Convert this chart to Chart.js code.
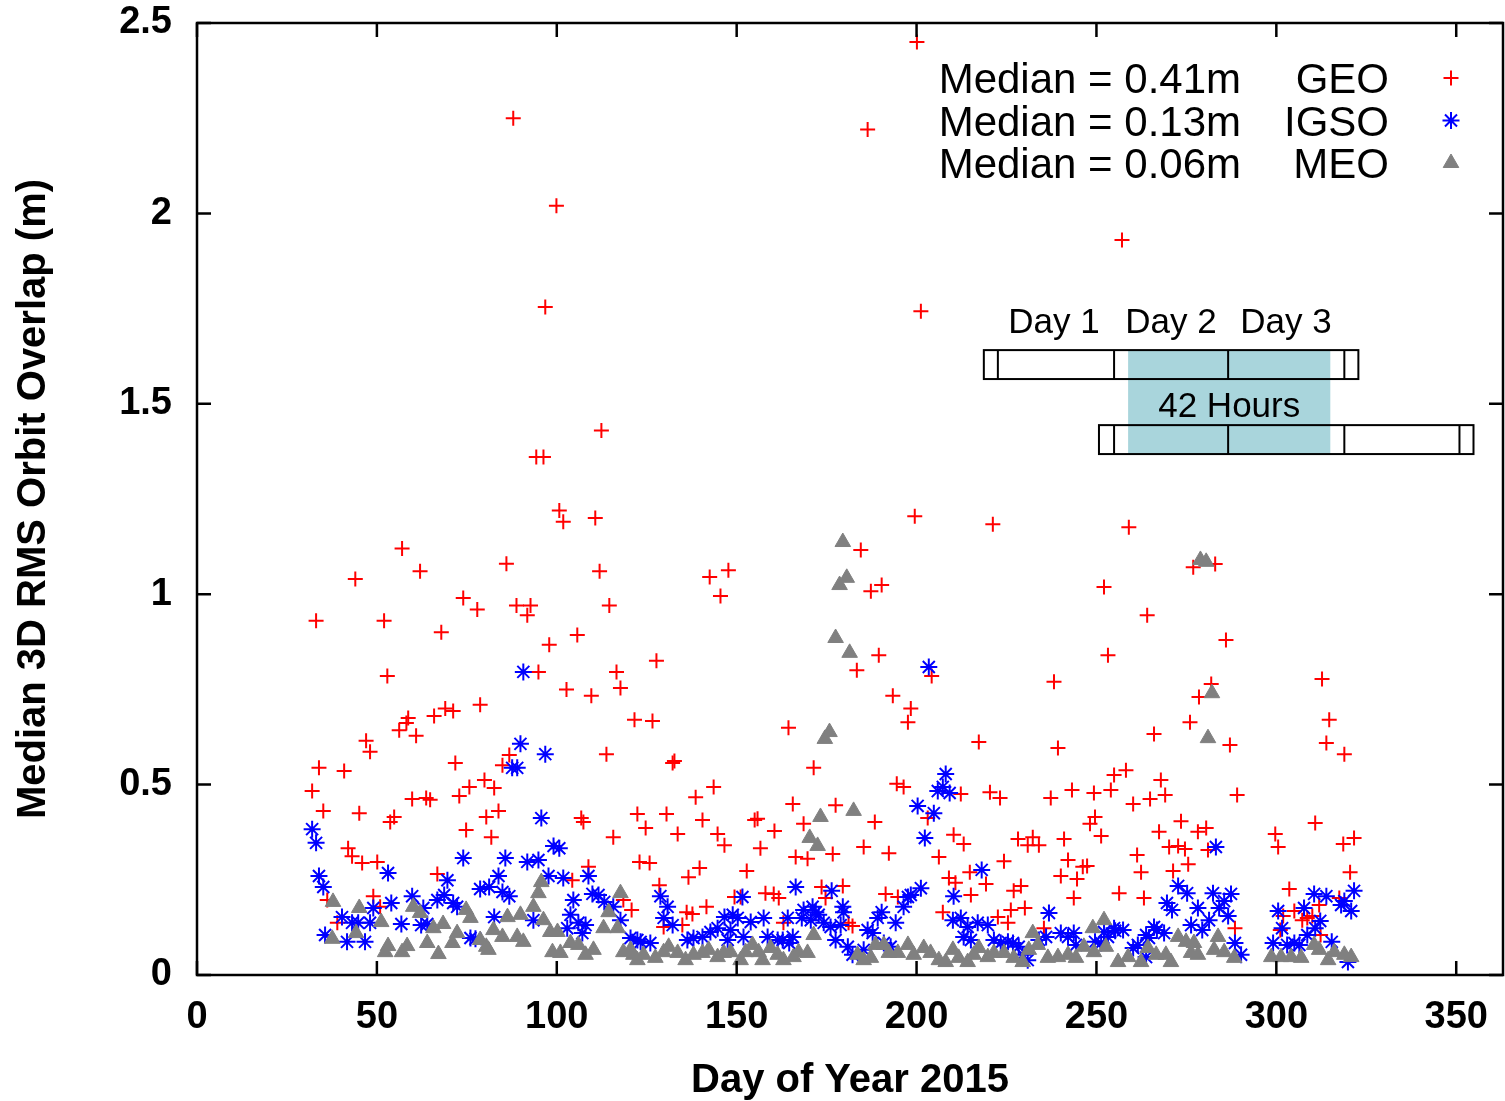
<!DOCTYPE html>
<html>
<head>
<meta charset="utf-8">
<script src="https://cdn.jsdelivr.net/npm/chart.js@4"></script>
<style>
  html, body { margin: 0; padding: 0; background: #fff; }
  #contenedor { width: 1505px; height: 1101px; }
</style>
</head>
<body>
<div id="contenedor"><canvas id="grafico"></canvas></div>
<script>
const xTicks = [0, 50, 100, 150, 200, 250, 300, 350];
const yTicks = [0, 0.5, 1, 1.5, 2, 2.5];
const seriesNames = ["GEO", "IGSO", "MEO"];
const medianLabels = ["Median = 0.41m", "Median = 0.13m", "Median = 0.06m"];
const insetDayLabels = ["Day 1", "Day 2", "Day 3"];
const insetSpanLabel = "42 Hours";

// [day, median 3D RMS overlap (m)]
const geoPoints = [
  [32.0,0.483],[33.1,0.93],[33.9,0.544],[35.1,0.431],[36.2,0.197],[39.0,0.137],[40.9,0.536],[42.0,0.333],[43.1,0.312],[44.0,1.04],
  [45.1,0.425],[45.9,0.294],[47.0,0.615],[48.1,0.586],[49.0,0.207],[50.1,0.297],[50.9,0.179],[52.0,0.93],[52.9,0.785],[53.7,0.402],
  [54.8,0.415],[56.2,0.643],[57.0,1.12],[58.2,0.662],[58.7,0.675],[59.8,0.462],[60.9,0.628],[62.0,1.06],[63.7,0.465],[64.8,0.46],
  [65.9,0.68],[66.8,0.265],[67.9,0.90],[69.0,0.70],[71.2,0.693],[71.8,0.557],[72.9,0.47],[74.0,0.99],[74.8,0.381],[75.7,0.494],
  [77.9,0.96],[78.7,0.71],[79.9,0.512],[80.4,0.415],[81.8,0.362],[82.6,0.491],[83.8,0.431],[84.9,0.551],[86.0,1.08],[86.8,0.578],
  [87.9,2.25],[88.8,0.97],[91.8,0.945],[92.7,0.97],[94.3,1.36],[94.9,0.796],[96.3,1.36],[96.8,1.754],[97.9,0.867],[99.9,2.02],
  [100.7,1.22],[101.8,1.19],[102.7,0.75],[104.3,0.249],[105.7,0.893],[106.8,0.412],[107.4,0.402],[108.8,0.284],[109.6,0.733],[110.7,1.20],
  [111.9,1.06],[112.4,1.43],[113.8,0.58],[114.6,0.97],[115.7,0.362],[116.6,0.796],[117.7,0.754],[118.5,0.197],[120.8,0.171],[121.6,0.67],
  [122.4,0.423],[123.0,0.297],[124.7,0.386],[125.8,0.294],[126.6,0.667],[127.7,0.825],[128.5,0.236],[129.7,0.126],[130.5,0.423],[132.2,0.557],
  [132.7,0.562],[133.6,0.37],[134.9,0.131],[136.1,0.165],[136.6,0.257],[137.7,0.16],[138.6,0.467],[139.7,0.281],[140.5,0.407],[141.6,0.179],
  [142.5,1.045],[143.6,0.494],[144.7,0.37],[145.5,0.995],[146.6,0.341],[147.7,1.063],[149.4,0.205],[151.1,0.205],[152.8,0.273],[155.0,0.407],
  [155.8,0.41],[156.6,0.333],[158.0,0.215],[160.3,0.213],[160.5,0.378],[161.7,0.202],[163.0,0.137],[164.4,0.649],[165.6,0.449],[166.4,0.31],
  [168.6,0.397],[169.7,0.305],[171.4,0.544],[173.6,0.231],[174.7,0.202],[176.7,0.318],[177.5,0.446],[179.5,0.234],[181.1,0.137],[182.2,0.129],
  [183.4,0.80],[184.5,1.116],[185.3,0.336],[186.4,2.22],[187.3,1.008],[188.4,0.402],[189.5,0.84],[190.3,1.024],[191.4,0.213],[192.3,0.32],
  [193.4,0.733],[194.5,0.502],[194.8,0.205],[196.4,0.494],[197.6,0.664],[198.4,0.70],[199.5,1.205],[200.1,2.45],[201.2,1.743],[203.1,0.412],
  [204.2,0.785],[206.2,0.31],[207.3,0.165],[209.0,0.255],[210.3,0.368],[210.8,0.242],[212.3,0.475],[213.1,0.344],[214.8,0.27],[215.1,0.21],
  [217.3,0.612],[219.3,0.239],[220.4,0.48],[221.2,1.184],[222.6,0.152],[223.2,0.465],[224.3,0.299],[225.4,0.137],[226.2,0.171],[227.0,0.221],
  [228.2,0.357],[229.0,0.234],[230.1,0.176],[230.9,0.341],[232.3,0.362],[234.0,0.341],[235.4,0.123],[237.3,0.465],[238.2,0.77],[239.3,0.596],
  [240.1,0.26],[241.0,0.357],[242.1,0.302],[243.2,0.486],[243.7,0.202],[244.6,0.252],[246.2,0.284],[247.4,0.286],[248.2,0.397],[249.3,0.478],
  [249.6,0.415],[251.3,0.365],[252.1,1.019],[253.2,0.84],[254.0,0.486],[254.9,0.525],[256.3,0.215],[257.1,1.93],[258.2,0.538],[259.0,1.176],
  [260.2,0.449],[261.3,0.315],[262.4,0.27],[263.2,0.202],[264.1,0.945],[264.9,0.462],[266.0,0.633],[267.4,0.376],[267.9,0.512],[269.1,0.473],
  [270.2,0.336],[271.3,0.273],[272.7,0.339],[273.5,0.404],[274.6,0.331],[275.5,0.291],[276.0,0.664],[276.9,1.071],[278.2,0.376],[278.5,0.73],
  [280.5,0.386],[281.0,0.328],[281.9,0.764],[283.0,1.079],[286.0,0.88],[287.1,0.604],[288.5,0.123],[289.1,0.473],[299.7,0.37],[300.5,0.336],
  [301.1,0.118],[301.9,0.155],[303.6,0.226],[305.0,0.168],[307.2,0.144],[307.7,0.176],[308.6,0.15],[310.0,0.155],[310.8,0.399],[311.9,0.184],
  [312.7,0.777],[312.3,0.105],[313.9,0.609],[314.7,0.67],[317.5,0.202],[318.6,0.344],[318.9,0.58],[320.5,0.27],[321.6,0.36]
];

const igsoPoints = [
  [32.0,0.383],[33.1,0.347],[33.9,0.26],[35.1,0.231],[35.6,0.105],[40.3,0.152],[41.7,0.087],[43.1,0.137],[44.8,0.137],[46.7,0.087],
  [48.1,0.137],[49.0,0.176],[53.1,0.268],[54.0,0.189],[56.8,0.134],[59.8,0.207],[62.3,0.131],[62.9,0.176],[64.0,0.134],[66.8,0.197],
  [68.7,0.21],[69.6,0.249],[71.2,0.189],[72.3,0.179],[74.0,0.307],[76.0,0.097],[77.4,0.095],[78.7,0.226],[81.2,0.231],[82.6,0.152],
  [83.8,0.26],[84.9,0.218],[85.7,0.307],[86.8,0.207],[87.6,0.544],[89.0,0.544],[89.9,0.607],[90.7,0.796],[91.8,0.297],[93.5,0.144],
  [94.9,0.302],[95.7,0.412],[96.8,0.58],[97.7,0.26],[99.1,0.339],[100.7,0.333],[101.8,0.255],[102.9,0.123],[103.8,0.158],[104.6,0.197],
  [106.0,0.137],[107.1,0.11],[108.0,0.131],[108.8,0.26],[109.9,0.213],[111.6,0.21],[113.2,0.192],[115.7,0.179],[117.7,0.144],[120.5,0.097],
  [122.4,0.092],[123.3,0.087],[126.0,0.084],[128.8,0.207],[129.7,0.15],[130.8,0.179],[132.2,0.131],[136.3,0.092],[138.0,0.097],[140.5,0.1],
  [142.7,0.113],[144.7,0.123],[146.6,0.152],[147.5,0.092],[148.3,0.118],[148.9,0.158],[150.3,0.15],[151.6,0.205],[151.9,0.1],[153.9,0.139],
  [157.5,0.15],[158.6,0.1],[161.4,0.092],[162.8,0.092],[164.2,0.15],[164.6,0.084],[165.6,0.1],[166.4,0.231],[168.1,0.15],[168.6,0.171],
  [170.6,0.144],[171.1,0.179],[172.0,0.165],[172.8,0.158],[174.2,0.137],[176.1,0.126],[176.4,0.221],[177.5,0.092],[178.9,0.131],[179.5,0.179],
  [179.7,0.165],[180.9,0.074],[182.2,0.053],[185.3,0.066],[186.4,0.118],[187.8,0.11],[189.2,0.15],[190.3,0.165],[190.9,0.084],[192.8,0.074],
  [194.2,0.137],[196.4,0.179],[197.6,0.205],[198.4,0.21],[200.3,0.444],[201.2,0.228],[202.3,0.36],[203.4,0.809],[204.8,0.425],[205.9,0.483],
  [207.3,0.494],[208.1,0.528],[209.2,0.478],[210.1,0.144],[210.3,0.207],[212.3,0.15],[213.1,0.1],[214.2,0.126],[215.1,0.092],[217.0,0.137],
  [218.1,0.276],[219.8,0.131],[221.5,0.092],[223.4,0.084],[225.4,0.087],[226.8,0.084],[228.4,0.074],[229.5,0.053],[230.9,0.039],[234.0,0.092],
  [236.0,0.1],[236.8,0.163],[240.1,0.11],[242.1,0.1],[243.7,0.11],[244.3,0.079],[249.6,0.087],[251.3,0.084],[252.1,0.113],[253.2,0.1],
  [254.9,0.123],[255.2,0.116],[257.4,0.118],[260.2,0.071],[261.5,0.079],[263.8,0.105],[263.8,0.047],[264.6,0.097],[266.0,0.126],[266.8,0.118],
  [268.8,0.11],[269.6,0.189],[271.0,0.171],[272.7,0.234],[275.2,0.215],[276.3,0.131],[278.2,0.176],[279.4,0.118],[281.3,0.144],[282.4,0.215],
  [283.2,0.336],[284.1,0.176],[285.5,0.194],[286.6,0.155],[287.4,0.213],[288.5,0.084],[290.2,0.053],[299.1,0.084],[300.5,0.168],[301.6,0.123],
  [303.0,0.079],[305.0,0.084],[306.4,0.079],[307.7,0.176],[308.6,0.105],[310.5,0.213],[310.8,0.123],[312.2,0.142],[313.9,0.207],[315.4,0.087],
  [318.0,0.184],[318.9,0.194],[319.9,0.034],[320.8,0.168],[321.6,0.221]
];

const meoPoints = [
  [37.6,0.095],[37.8,0.192],[44.2,0.11],[45.1,0.176],[51.2,0.139],[52.3,0.06],[53.1,0.076],[57.0,0.06],[58.4,0.076],[60.1,0.179],
  [62.0,0.163],[64.0,0.084],[65.7,0.123],[67.1,0.055],[68.4,0.134],[71.0,0.084],[72.3,0.11],[74.8,0.171],[76.0,0.15],[78.7,0.092],
  [80.4,0.074],[81.0,0.066],[82.4,0.118],[84.9,0.1],[86.3,0.152],[89.0,0.1],[89.9,0.158],[90.7,0.087],[93.5,0.179],[94.9,0.215],
  [95.7,0.244],[96.3,0.144],[98.2,0.113],[98.8,0.06],[100.2,0.113],[101.0,0.058],[103.8,0.084],[106.0,0.079],[108.0,0.053],[110.2,0.066],
  [113.0,0.123],[114.4,0.165],[116.9,0.123],[117.7,0.215],[118.5,0.06],[120.5,0.066],[121.3,0.053],[122.4,0.039],[124.1,0.053],[127.4,0.045],
  [129.7,0.06],[131.1,0.074],[133.6,0.058],[135.8,0.039],[138.0,0.053],[140.5,0.058],[142.2,0.066],[144.7,0.047],[146.4,0.058],[148.3,0.06],
  [151.1,0.039],[152.5,0.06],[154.4,0.079],[156.1,0.06],[157.2,0.039],[159.4,0.071],[161.4,0.053],[163.0,0.039],[165.8,0.047],[167.2,0.06],
  [169.7,0.058],[170.3,0.36],[171.4,0.105],[172.5,0.339],[173.3,0.415],[174.5,0.62],[175.8,0.638],[177.5,0.885],[178.6,1.024],[179.5,1.137],
  [180.6,1.043],[181.4,0.846],[182.5,0.431],[183.6,0.053],[185.3,0.039],[187.3,0.045],[188.6,0.079],[190.9,0.079],[192.3,0.058],[194.8,0.058],
  [197.6,0.079],[199.2,0.053],[202.0,0.071],[203.9,0.058],[206.2,0.039],[208.1,0.034],[210.1,0.066],[211.7,0.045],[214.2,0.034],[215.9,0.053],
  [217.3,0.071],[219.8,0.047],[221.5,0.058],[224.3,0.058],[227.0,0.045],[229.5,0.034],[231.2,0.066],[232.3,0.11],[233.7,0.079],[236.5,0.045],
  [239.3,0.047],[242.1,0.053],[244.3,0.045],[246.5,0.074],[249.0,0.123],[249.3,0.06],[252.1,0.144],[252.6,0.074],[256.0,0.034],[258.8,0.047],
  [262.4,0.034],[264.3,0.071],[266.6,0.053],[269.3,0.053],[270.7,0.034],[272.7,0.1],[274.9,0.087],[276.3,0.058],[277.1,0.084],[278.2,0.053],
  [278.9,1.09],[280.5,1.085],[281.0,0.622],[282.1,0.74],[282.7,0.066],[283.8,0.1],[285.5,0.06],[288.3,0.045],[298.6,0.047],[301.3,0.047],
  [304.1,0.047],[306.9,0.045],[310.5,0.079],[311.9,0.066],[314.4,0.039],[316.1,0.06],[318.9,0.053],[320.8,0.047]
];

const FUENTE = "'Liberation Sans', Arial, Helvetica, sans-serif";
Chart.defaults.font.family = FUENTE;

const estilos = [
  { color: "#ff0000", pointStyle: "cross", radius: 7.5, borderWidth: 2 },
  { color: "#0000ff", pointStyle: "star", radius: 8.5, borderWidth: 2 },
  { color: "#808080", pointStyle: "triangle", radius: 9, borderWidth: 1 },
];

// the 42 hour overlap sketch, in axis units (day, m)
const esquema = {
  shade: { x0: 258.8, x1: 315.0, y0: 1.368, y1: 1.641 },
  bars: [
    { x0: 218.7, x1: 322.8, y0: 1.565, y1: 1.641, cuts: [222.6, 254.9, 286.6, 318.9] },
    { x0: 250.7, x1: 354.8, y0: 1.368, y1: 1.444, cuts: [254.9, 286.6, 318.9, 350.9] },
  ],
  dayX: [238.2, 270.7, 302.7],
  dayY: 1.686,
  spanX: 286.9,
  spanY: 1.466,
};

const toXY = (pts) => pts.map(([x, y]) => ({ x, y }));

const dibujarPunto = (ctx, est, x, y) => {
  ctx.save();
  ctx.strokeStyle = est.color;
  ctx.fillStyle = est.color;
  ctx.lineWidth = est.borderWidth;
  Chart.helpers.drawPoint(ctx, { pointStyle: est.pointStyle, radius: est.radius, borderWidth: est.borderWidth, rotation: 0 }, x, y);
  ctx.restore();
};

const marco = {
  id: "marco",
  afterDatasetsDraw(chart) {
    const { ctx, chartArea: a, scales: { x, y } } = chart;
    ctx.save();

    // overlap sketch
    const s = esquema.shade;
    ctx.fillStyle = "#a9d5dc";
    ctx.fillRect(x.getPixelForValue(s.x0), y.getPixelForValue(s.y1),
      x.getPixelForValue(s.x1) - x.getPixelForValue(s.x0), y.getPixelForValue(s.y0) - y.getPixelForValue(s.y1));
    ctx.strokeStyle = "#000";
    ctx.lineWidth = 2;
    esquema.bars.forEach((b) => {
      const px0 = x.getPixelForValue(b.x0), px1 = x.getPixelForValue(b.x1);
      const py0 = y.getPixelForValue(b.y1), py1 = y.getPixelForValue(b.y0);
      ctx.strokeRect(px0, py0, px1 - px0, py1 - py0);
      b.cuts.forEach((c) => {
        const pc = x.getPixelForValue(c);
        ctx.beginPath();
        ctx.moveTo(pc, py0);
        ctx.lineTo(pc, py1);
        ctx.stroke();
      });
    });
    ctx.fillStyle = "#000";
    ctx.font = `35px ${FUENTE}`;
    ctx.textAlign = "center";
    ctx.textBaseline = "alphabetic";
    insetDayLabels.forEach((t, i) => {
      ctx.fillText(t, x.getPixelForValue(esquema.dayX[i]), y.getPixelForValue(esquema.dayY));
    });
    ctx.fillText(insetSpanLabel, x.getPixelForValue(esquema.spanX), y.getPixelForValue(esquema.spanY));

    // key, gnuplot style
    ctx.font = `42px ${FUENTE}`;
    ctx.textAlign = "right";
    seriesNames.forEach((nombre, i) => {
      const base = a.top + 70 + i * 42.5;
      ctx.fillStyle = "#000";
      ctx.fillText(medianLabels[i], a.right - 262, base);
      ctx.fillText(nombre, a.right - 114, base);
      dibujarPunto(ctx, estilos[i], a.right - 52, base - 15);
    });

    // border + inward ticks on all four sides
    ctx.strokeStyle = "#000";
    ctx.lineWidth = 2.5;
    ctx.strokeRect(a.left, a.top, a.right - a.left, a.bottom - a.top);
    const largo = 14;
    ctx.beginPath();
    xTicks.forEach((v) => {
      const px = x.getPixelForValue(v);
      ctx.moveTo(px, a.bottom);
      ctx.lineTo(px, a.bottom - largo);
      ctx.moveTo(px, a.top);
      ctx.lineTo(px, a.top + largo);
    });
    yTicks.forEach((v) => {
      const py = y.getPixelForValue(v);
      ctx.moveTo(a.left, py);
      ctx.lineTo(a.left + largo, py);
      ctx.moveTo(a.right, py);
      ctx.lineTo(a.right - largo, py);
    });
    ctx.stroke();
    ctx.restore();
  },
};

const series = [geoPoints, igsoPoints, meoPoints];

const datasets = series.map((pts, i) => ({
  label: seriesNames[i],
  data: toXY(pts),
  showLine: false,
  pointStyle: estilos[i].pointStyle,
  pointRadius: estilos[i].radius,
  pointHoverRadius: estilos[i].radius,
  pointBorderWidth: estilos[i].borderWidth,
  borderColor: estilos[i].color,
  backgroundColor: estilos[i].color,
  order: 3 - i,
}));

new Chart(document.getElementById("grafico"), {
  type: "scatter",
  data: { datasets },
  options: {
    responsive: true,
    maintainAspectRatio: false,
    animation: false,
    events: [],
    layout: { autoPadding: false, padding: { top: 23, right: 2, left: 0, bottom: 0 } },
    plugins: { legend: { display: false }, tooltip: { enabled: false } },
    scales: {
      x: {
        type: "linear",
        min: 0,
        max: 363,
        grid: { display: false, drawTicks: false },
        border: { display: false },
        afterBuildTicks: (scale) => { scale.ticks = xTicks.map((v) => ({ value: v })); },
        afterFit: (scale) => {
          scale.height = 126;
          scale.paddingLeft = 0;
          scale.paddingRight = 0;
        },
        ticks: {
          color: "#000",
          padding: 20,
          maxRotation: 0,
          autoSkip: false,
          font: { size: 38, weight: "bold" },
          callback: (v) => String(v),
        },
        title: {
          display: true,
          text: "Day of Year 2015",
          color: "#000",
          font: { size: 40, weight: "bold", lineHeight: 1.0 },
          padding: { top: 0, bottom: 0 },
        },
      },
      y: {
        type: "linear",
        min: 0,
        max: 2.5,
        grid: { display: false, drawTicks: false },
        border: { display: false },
        afterBuildTicks: (scale) => { scale.ticks = yTicks.map((v) => ({ value: v })); },
        afterFit: (scale) => {
          scale.width = 197;
          scale.paddingTop = 0;
          scale.paddingBottom = 0;
        },
        ticks: {
          color: "#000",
          padding: 25,
          autoSkip: false,
          font: { size: 38, weight: "bold" },
          callback: (v) => String(v),
        },
        title: {
          display: true,
          text: "Median 3D RMS Orbit Overlap (m)",
          color: "#000",
          font: { size: 40, weight: "bold" },
          padding: { top: 10, bottom: 0 },
        },
      },
    },
  },
  plugins: [marco],
});
</script>
</body>
</html>
